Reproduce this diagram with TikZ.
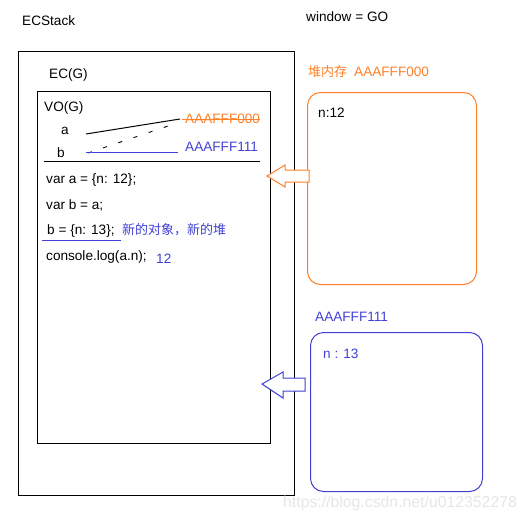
\documentclass[tikz,border=0pt]{standalone}
\usepackage{fontspec}
\setmainfont{Liberation Sans}
\newfontfamily\cjk{Noto Sans CJK SC}
\definecolor{orng}{RGB}{255,128,39}
\definecolor{blu}{RGB}{64,64,212}
\definecolor{wm}{RGB}{230,230,230}
\begin{document}
\begin{tikzpicture}[x=1pt,y=-1pt,
  txt/.style={anchor=west,inner sep=0pt,font=\fontsize{13.6}{15}\selectfont},
  frame/.style={draw,line width=1pt,anchor=north west,inner sep=0pt},
  heapbox/.style={draw,line width=1pt,anchor=north west,inner sep=0pt,rounded corners=13pt},
  blockarrow/.style={draw,line width=1pt,fill=white}]
\useasboundingbox (0,0) rectangle (527,522);
% frames
\node[frame,minimum width=276pt,minimum height=444pt] (stack) at (18,51) {};
\node[frame,minimum width=233pt,minimum height=352pt] (ec) at (37,91) {};
\node[heapbox,draw=orng,minimum width=169pt,minimum height=192pt] (heap0) at (307,92) {};
\node[heapbox,draw=blu,minimum width=172pt,minimum height=159pt] (heap1) at (310,332) {};
% titles
\node[txt] (ecstack) at (22,21) {ECStack};
\node[txt] (window) at (306,17) {window = GO};
\node[txt] (ecg) at (49,75) {EC(G)};
\node[txt,text=orng] (heaplbl) at (308,72) {{\cjk\fontsize{13}{15}\selectfont 堆内存}\hspace{7pt}AAAFFF000};
% VO
\node[txt] (vo) at (44,108) {VO(G)};
\node[txt] (a) at (61,131) {a};
\node[txt] (b) at (57,153) {b};
\node[txt,text=orng] (addr0) at (185,119) {AAAFFF000};
\node[txt,text=blu] (addr1) at (185,147) {AAAFFF111};
\coordinate (aS) at (86,134);
\coordinate (aE) at (180,119);
\coordinate (bS) at (88,153);
\coordinate (bE) at (177,123);
\coordinate (cS) at (86,152);
\coordinate (cE) at (178,152);
\draw[line width=1pt] (aS) -- (aE);
\draw[line width=0.9pt,dash pattern=on 4pt off 12pt] (bS) -- (bE);
\draw[blu,line width=1pt] (cS) -- (cE);
\draw[orng,line width=0.8pt] (addr0.west) ++(-3,0) -- (addr0.east);
\coordinate (sepL) at (44,161);
\coordinate (sepR) at (260,161);
\draw[line width=1pt] (sepL) -- (sepR);
% code
\node[txt] (c1) at (46,180) {var a = \{n: 12\};};
\node[txt] (c2) at (46,205) {var b = a;};
\node[txt] (c3) at (47,231) {b = \{n: 13\};};
\node[txt,text=blu,font=\fontsize{13}{15}\selectfont] (c3note) at (122,230) {\cjk 新的对象，新的堆};
\coordinate (ulL) at (42,240);
\coordinate (ulR) at (121,240);
\draw[blu,line width=1pt] (ulL) -- (ulR);
\node[txt] (c4) at (46,257) {console.log(a.n);};
\node[txt,text=blu] (res) at (156,259) {12};
% heap contents
\node[txt] (n12) at (318,113) {n:12};
\node[txt,text=blu] (heap1lbl) at (315,317) {AAAFFF111};
\node[txt,text=blu] (n13) at (323,354) {n : 13};
% block arrows
\draw[blockarrow,draw=orng] (267,176) -- (285,165) -- (285,170) -- (309,170) -- (309,182) -- (285,182) -- (285,187) -- cycle;
\draw[blockarrow,draw=blu] (262,384) -- (283,372) -- (283,378) -- (305,378) -- (305,391) -- (283,391) -- (283,398) -- cycle;
% watermark
\node[anchor=west,inner sep=0pt,text=wm,font=\fontsize{15.8}{18}\selectfont] (wmark) at (283,503) {https://blog.csdn.net/u012352278};
\end{tikzpicture}
\end{document}
